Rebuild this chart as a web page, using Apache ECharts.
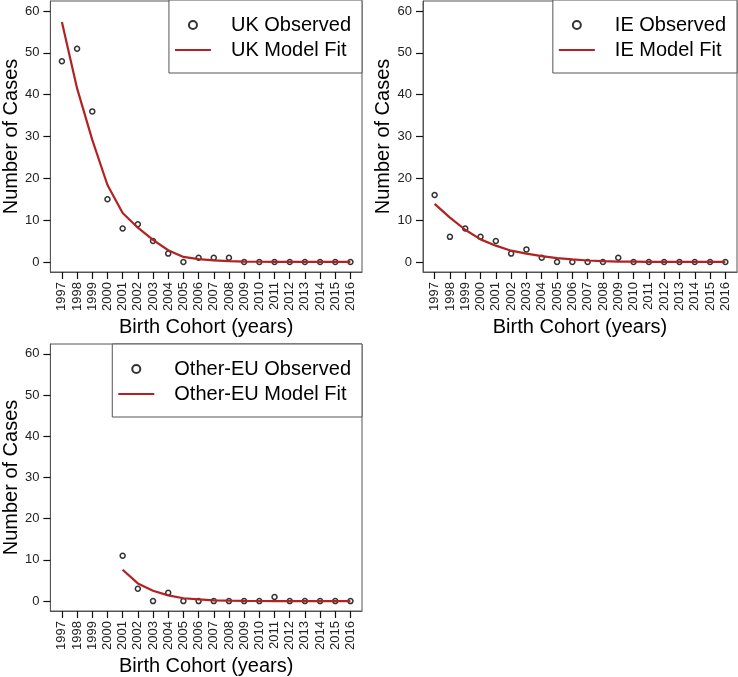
<!DOCTYPE html>
<html>
<head>
<meta charset="utf-8">
<script src="https://cdn.jsdelivr.net/npm/echarts@6/dist/echarts.min.js"></script>
<style>
html,body{margin:0;padding:0;background:#fff;}
#chart{width:738px;height:677px;}
</style>
</head>
<body>
<div id="chart"></div>
<script>
var years = [1997,1998,1999,2000,2001,2002,2003,2004,2005,2006,2007,2008,2009,2010,2011,2012,2013,2014,2015,2016];
var yTicks = [0,10,20,30,40,50,60];

var ukObserved = [48,51,36,15,8,9,5,2,0,1,1,1,0,0,0,0,0,0,0,0];
var ukFit = [57.4,41.5,29.2,18.4,11.7,8.2,5.3,2.8,1.2,0.7,0.4,0.2,0.1,0.05,0.03,0.02,0.01,0,0,0];

var ieObserved = [16,6,8,6,5,2,3,1,0,0,0,0,1,0,0,0,0,0,0,0];
var ieFit = [13.9,10.6,7.7,5.4,3.9,2.7,2.0,1.4,0.9,0.6,0.35,0.2,0.1,0.06,0.03,0.02,0.01,0,0,0];

var otherObserved = [null,null,null,null,11,3,0,2,0,0,0,0,0,0,1,0,0,0,0,0];
var otherFit = [null,null,null,null,7.6,4.3,2.5,1.4,0.7,0.4,0.2,0.1,0.05,0.03,0.02,0.01,0,0,0,0];

var panels = [
  {obsName:'UK Observed', fitName:'UK Model Fit', obs:ukObserved, fit:ukFit},
  {obsName:'IE Observed', fitName:'IE Model Fit', obs:ieObserved, fit:ieFit},
  {obsName:'Other-EU Observed', fitName:'Other-EU Model Fit', obs:otherObserved, fit:otherFit}
];

var FONT = 'Liberation Sans, Arial, sans-serif';
var RED = '#B22222';
var FRAME = '#555';

var gridPos = [
  {left:48, top:1, width:314, height:271},
  {left:423, top:1, width:314, height:271},
  {left:48, top:344, width:314, height:271}
];
var legendPos = [
  {right:376, top:0},
  {right:1, top:0},
  {right:376, top:344}
];

function pairs(vals){
  var out = [];
  for (var i=0;i<years.length;i++){ if (vals[i]!==null) out.push([years[i], vals[i]]); }
  return out;
}

var option = {
  animation:false,
  backgroundColor:'#fff',
  grid:[], xAxis:[], yAxis:[], series:[], legend:[]
};

panels.forEach(function(p, i){
  option.grid.push(Object.assign({show:true, borderColor:FRAME, borderWidth:1}, gridPos[i]));
  option.xAxis.push({
    type:'value', gridIndex:i, min:1996.24, max:2016.76,
    axisLine:{show:true, onZero:false, lineStyle:{color:FRAME}}, splitLine:{show:false},
    axisTick:{show:true, customValues:years, length:7, lineStyle:{color:'#111', width:1.2}},
    axisLabel:{customValues:years, rotate:90, margin:10, fontSize:13, color:'#222', fontFamily:FONT,
      formatter:function(v){ return String(Math.round(v)); }},
    name:'Birth Cohort (years)', nameLocation:'middle', nameGap:45,
    nameTextStyle:{fontSize:20, color:'#000', fontFamily:FONT}
  });
  option.yAxis.push({
    type:'value', gridIndex:i, min:-2.4, max:62.4,
    axisLine:{show:true, onZero:false, lineStyle:{color:FRAME}}, splitLine:{show:false},
    axisTick:{show:true, customValues:yTicks, length:7, lineStyle:{color:'#111', width:1.2}},
    axisLabel:{customValues:yTicks, margin:11, fontSize:13, color:'#222', fontFamily:FONT},
    name:'Number of Cases', nameLocation:'middle', nameGap:27, nameRotate:90,
    nameTextStyle:{fontSize:20, color:'#000', fontFamily:FONT}
  });
  option.series.push({
    type:'scatter', name:p.obsName, xAxisIndex:i, yAxisIndex:i,
    data:pairs(p.obs), symbol:'circle', symbolSize:5,
    itemStyle:{color:'#fff', borderColor:'#000', borderWidth:1.5}, z:2
  });
  option.series.push({
    type:'line', name:p.fitName, xAxisIndex:i, yAxisIndex:i,
    data:pairs(p.fit), symbol:'none', smooth:false,
    lineStyle:{color:RED, width:2.2}, itemStyle:{color:RED}, z:3
  });
  option.legend.push(Object.assign({
    orient:'vertical', itemWidth:36, itemHeight:8, itemGap:5,
    padding:[15,11,13,5], borderColor:FRAME, borderWidth:1, backgroundColor:'#fff',
    selectedMode:false,
    textStyle:{fontSize:20, lineHeight:20, color:'#000', fontFamily:FONT, padding:[0,0,0,15]},
    data:[
      {name:p.obsName, itemStyle:{borderWidth:2, borderColor:'#000', color:'#fff'}},
      {name:p.fitName, itemStyle:{opacity:0, color:'rgba(0,0,0,0)', borderWidth:0}}
    ]
  }, legendPos[i]));
});

var chart = echarts.init(document.getElementById('chart'));
chart.setOption(option);
</script>
</body>
</html>
